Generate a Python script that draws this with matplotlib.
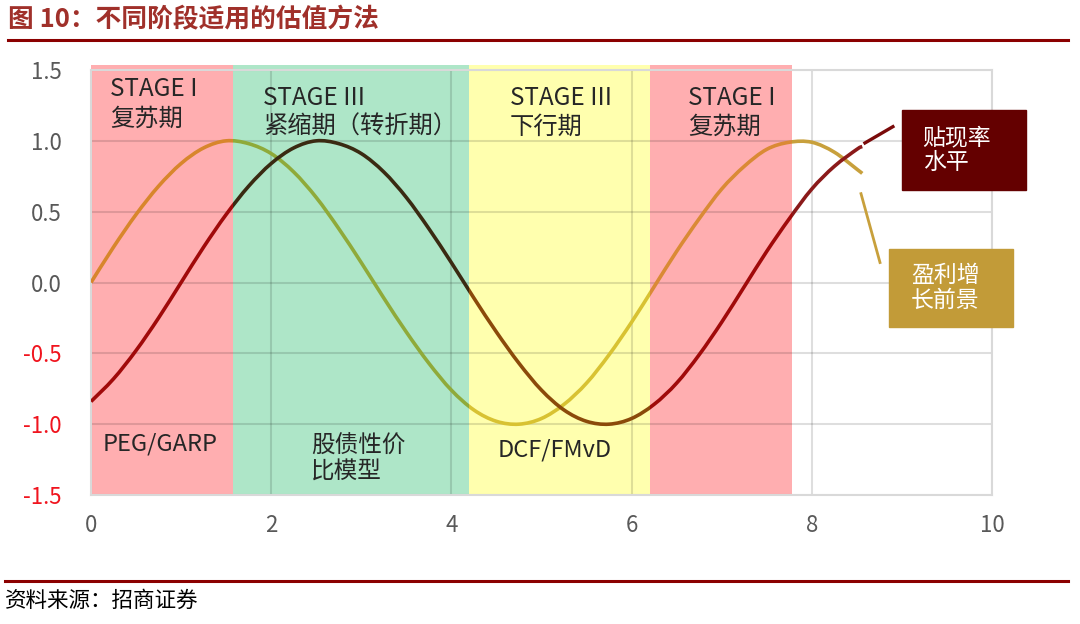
import numpy as np
import matplotlib
matplotlib.use('Agg')
import matplotlib.pyplot as plt
from matplotlib.patches import Rectangle, PathPatch
from matplotlib.lines import Line2D
from matplotlib.path import Path

plt.rcParams['font.family'] = ['Noto Sans CJK SC', 'DejaVu Sans']

# values
x_vals = [0, 0.25, 0.5, 0.75, 1.0, 1.25, 1.5, 1.75, 2.0, 2.25, 2.5, 2.75, 3.0,
          3.25, 3.5, 3.75, 4.0, 4.25, 4.5, 4.75, 5.0, 5.25, 5.5, 5.75, 6.0,
          6.25, 6.5, 6.75, 7.0, 7.25, 7.5, 7.75, 8.0, 8.25, 8.5, 8.56]
growth = [0.00, 0.25, 0.48, 0.68, 0.84, 0.95, 1.00, 0.98, 0.91, 0.78, 0.60, 0.38,
          0.14, -0.11, -0.35, -0.57, -0.76, -0.90, -0.98, -1.00, -0.96, -0.86,
          -0.71, -0.51, -0.28, -0.03, 0.22, 0.45, 0.66, 0.82, 0.94, 0.99, 0.99,
          0.92, 0.80, 0.77]
rate = [-0.84, -0.68, -0.48, -0.25, 0.00, 0.25, 0.48, 0.68, 0.84, 0.95, 1.00,
        0.98, 0.91, 0.78, 0.60, 0.38, 0.14, -0.11, -0.35, -0.57, -0.76, -0.90,
        -0.98, -1.00, -0.96, -0.86, -0.71, -0.51, -0.28, -0.03, 0.22, 0.45,
        0.66, 0.82, 0.94, 0.96]

stage_edges = [0, 1.571, 4.2, 6.2, 7.78, 10]
stage_fill = ['#FFAEB0', '#AEE6C8', '#FFFFAE', '#FFAEB0', None]
growth_cols = ['#D8862C', '#8FAA3A', '#D8C232', '#DA8A35', '#C8A03C']
rate_cols = ['#A00A0A', '#3A2A12', '#8B4A0A', '#A00A0A', '#8B1A1A']

stage_top = ['STAGE I\n复苏期', 'STAGE III\n紧缩期（转折期）', 'STAGE III\n下行期', 'STAGE I\n复苏期']
stage_top_x = [0.21, 1.91, 4.65, 6.63]
stage_top_y = [1.26, 1.20, 1.20, 1.20]
method = ['PEG/GARP', '股债性价\n比模型', 'DCF/FMvD']
method_x = [0.13, 2.44, 4.51]
method_y = [-1.14, -1.25, -1.18]

yticks = [-1.5, -1.0, -0.5, 0.0, 0.5, 1.0, 1.5]
xticks = [0, 2, 4, 6, 8, 10]


def smooth_path(xs, ys):
    # smoothed line like the spreadsheet one: bezier pieces through the points
    p = np.column_stack([xs, ys])
    n = len(p)
    verts = [p[0]]
    codes = [Path.MOVETO]
    for i in range(n - 1):
        p0 = p[max(i - 1, 0)]
        p3 = p[min(i + 2, n - 1)]
        c1 = p[i] + (p[i + 1] - p0) / 6
        c2 = p[i + 1] - (p3 - p[i]) / 6
        verts += [c1, c2, p[i + 1]]
        codes += [Path.CURVE4] * 3
    return Path(verts, codes)


fig = plt.figure(figsize=(10.8, 6.24), dpi=100)
ax = fig.add_axes([91/1080, 1 - 495/624, (992 - 91)/1080, (495 - 70)/624])
ax.set_xlim(0, 10)
ax.set_ylim(-1.5, 1.5)

# stage bands
for a, b, c in zip(stage_edges[:-1], stage_edges[1:], stage_fill):
    if c:
        ax.axvspan(a, b, ymin=0, ymax=1.012, color=c, lw=0, zorder=0, clip_on=False)

ax.grid(True, color='black', alpha=0.13, lw=1.5)
for s in ax.spines.values():
    s.set_color('#D9D9D9')
    s.set_linewidth(1.5)

ax.set_xticks(xticks)
ax.set_yticks(yticks)
ax.set_yticklabels(['%.1f' % v for v in yticks])
ax.tick_params(length=0, labelsize=16, labelcolor='#595959')
ax.tick_params(axis='y', pad=21)
ax.tick_params(axis='x', pad=14)
for lab, v in zip(ax.get_yticklabels(), yticks):
    if v < 0:
        lab.set_color('#F0141E')

# curves, coloured per band
growth_path = smooth_path(x_vals, growth)
rate_path = smooth_path(x_vals, rate)
for a, b, gc, rc in zip(stage_edges[:-1], stage_edges[1:], growth_cols, rate_cols):
    for pth, col in ((growth_path, gc), (rate_path, rc)):
        pp = PathPatch(pth, fill=False, edgecolor=col, lw=2.6, joinstyle='round',
                       capstyle='butt', zorder=3)
        ax.add_patch(pp)
        pp.set_clip_path(Rectangle((a, -2), b - a, 4, transform=ax.transData))

for t, xx, yy in zip(stage_top, stage_top_x, stage_top_y):
    ax.text(xx, yy, t, fontsize=17.5, color='#262626', ha='left', va='center',
            linespacing=1.15, zorder=4)
for t, xx, yy in zip(method, method_x, method_y):
    ax.text(xx, yy, t, fontsize=17, color='#262626', ha='left', va='center',
            linespacing=1.15, zorder=4)

# legend boxes with leader lines
ax.plot([8.59, 8.9], [0.985, 1.10], color='#7A0A0A', lw=2.4, clip_on=False, zorder=3)
ax.plot([8.546, 8.757], [0.627, 0.141], color='#C8A03C', lw=2, clip_on=False, zorder=3)
ax.add_patch(Rectangle((9.0, 0.655), 1.38, 0.563, color='#640000', clip_on=False, zorder=5))
ax.add_patch(Rectangle((8.857, -0.317), 1.376, 0.556, color='#C29B38', clip_on=False, zorder=5))
ax.text(9.23, 0.937, '贴现率\n水平', fontsize=16.5, color='white', ha='left', va='center',
        linespacing=1.1, zorder=6, clip_on=False)
ax.text(9.10, -0.04, '盈利增\n长前景', fontsize=16.5, color='white', ha='left', va='center',
        linespacing=1.1, zorder=6, clip_on=False)

# title and source
fig.text(8/1080, 1 - 20/624, '图 10：不同阶段适用的估值方法', fontsize=18.5, fontweight='bold',
         color='#A0302A', va='center', ha='left')
fig.add_artist(Line2D([8/1080, 1068/1080], [1 - 40/624] * 2, color='#8B0000', lw=2.2))
fig.add_artist(Line2D([5/1080, 1068/1080], [1 - 581/624] * 2, color='#8B0000', lw=2.2))
fig.text(5/1080, 1 - 601/624, '资料来源：招商证券', fontsize=15.5, color='black',
         va='center', ha='left')

fig.savefig('out.png', dpi=100)
